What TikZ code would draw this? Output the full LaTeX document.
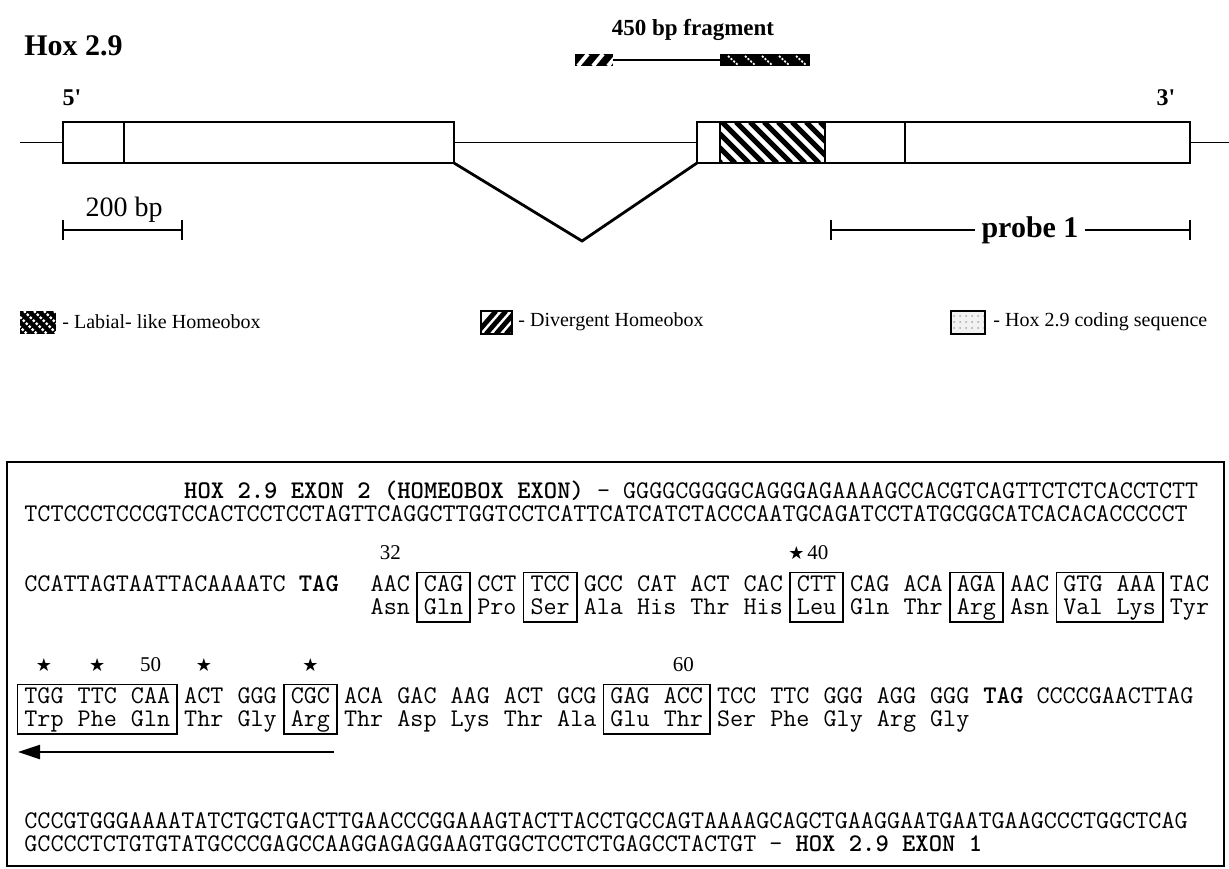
\documentclass[tikz,border=0pt]{standalone}
\usepackage{fontspec}
\setmainfont{Liberation Serif}
\newfontfamily\symfont{DejaVu Sans}
\usetikzlibrary{arrows.meta,positioning,patterns}

\tikzset{
  exon/.style={draw, line width=1pt, fill=white},
  dna/.style={line width=0.8pt},
  splice/.style={line width=1.4pt},
  scalebar/.style={line width=1pt},
  maplbl/.style={font=\fontsize{15}{17}\selectfont\bfseries, inner sep=0},
  endlbl/.style={font=\fontsize{12}{14}\selectfont\bfseries, inner sep=0},
  legtxt/.style={font=\fontsize{10}{12}\selectfont, inner sep=0, anchor=west},
  legicon/.style={draw, line width=0.7pt},
  seq/.style={font=\ttfamily\fontsize{12.69}{15}\selectfont, inner sep=0,
    text height=6.5pt, text depth=1.8pt, anchor=base west},
  numlbl/.style={font=\fontsize{10.5}{12}\selectfont, inner sep=0},
  starlbl/.style={font=\symfont\fontsize{9}{10}\selectfont, inner sep=0},
  codonbox/.style={draw, line width=0.8pt},
  seqarrow/.style={line width=1.2pt, -{Triangle[length=11pt, width=7pt]}},
}

\begin{document}
\begin{tikzpicture}[x=0.5pt, y=-0.5pt]
  \useasboundingbox (0,0) rectangle (1229,868);

  % Gene map titles
  \node[maplbl, anchor=west] (hoxtitle) at (24,46) {Hox 2.9};
  \node[font=\fontsize{11.5}{13}\selectfont\bfseries, inner sep=0] (fraglbl) at (693,30) {450 bp fragment};
  \node[endlbl] (five) at (72,98) {5\textquotesingle};
  \node[endlbl] (three) at (1166,98) {3\textquotesingle};

  % 450 bp fragment
  \fill (575,54) rectangle (613,66);
  \begin{scope}
    \clip (575,54) rectangle (613,66);
    \foreach \s in {0,1,2}
      \draw[white, line width=2pt] (578+\s*15,66) -- ++(10,-12);
  \end{scope}
  \draw[dna] (613,60) -- (720,60);
  \fill (720,54) rectangle (810,66);
  \foreach \k in {0,...,4}
    \draw[white, line width=0.9pt, dash pattern=on 1pt off 0.8pt] (728+\k*17,56) -- ++(10,9);

  % Genomic line, exons and splice
  \draw[dna] (20,142.5) -- (63,142.5);
  \draw[dna] (454,142.5) -- (697,142.5);
  \draw[dna] (1190,142.5) -- (1229,142.5);
  \draw[exon] (63,122) rectangle (454,163);
  \draw[line width=1pt] (124,122) -- (124,163);
  \draw[exon] (697,122) rectangle (1190,163);
  \begin{scope}
    \clip (720,122) rectangle (825,163);
    \foreach \s in {0,...,10}
      \draw[line width=2.5pt] (680+\s*14,122) -- ++(41,41);
  \end{scope}
  \draw[line width=0.7pt] (720,122) -- (720,163) (825,122) -- (825,163);
  \draw[line width=1pt] (905,122) -- (905,163);
  \draw[exon, fill=none] (697,122) rectangle (1190,163);
  \draw[splice] (454,163) -- (582,241) -- (697,163);

  % Scale bar and probe
  \coordinate (sbL) at (63,230);
  \coordinate (sbR) at (182,230);
  \draw[scalebar] (sbL) -- (sbR);
  \draw[scalebar] ([yshift=5pt]sbL) -- ([yshift=-5pt]sbL);
  \draw[scalebar] ([yshift=5pt]sbR) -- ([yshift=-5pt]sbR);
  \node[font=\fontsize{14}{16}\selectfont, inner sep=0] (sblbl) at (124,210) {200 bp};

  \coordinate (prL) at (831,230);
  \coordinate (prR) at (1190,230);
  \node[font=\fontsize{15}{17}\selectfont\bfseries, inner xsep=3pt, inner ysep=0] (prlbl) at (1030,230) {probe 1};
  \draw[scalebar] (prL) -- (prlbl.west);
  \draw[scalebar] (prlbl.east) -- (prR);
  \draw[scalebar] ([yshift=5pt]prL) -- ([yshift=-5pt]prL);
  \draw[scalebar] ([yshift=5pt]prR) -- ([yshift=-5pt]prR);

  % Legend
  \fill (20,311) rectangle (56,334);
  \begin{scope}
    \clip (20,311) rectangle (56,334);
    \foreach \s in {0,...,6}
      \draw[white, line width=1.1pt, dash pattern=on 1.2pt off 0.9pt] (4+\s*10,311) -- ++(23,23);
  \end{scope}
  \node[legtxt] (leglab) at (62,322) {- Labial- like Homeobox};

  \begin{scope}
    \clip (481,311) rectangle (512,334);
    \foreach \s in {0,1,2,3}
      \draw[line width=2.4pt] (476+\s*10,334) -- ++(20,-23);
  \end{scope}
  \draw[legicon] (481,311) rectangle (512,334);
  \node[legtxt] (legdiv) at (518,322) {- Divergent Homeobox};

  \fill[gray!10] (951,311) rectangle (985,334);
  \fill[pattern=dots, pattern color=gray!70] (951,311) rectangle (985,334);
  \draw[legicon] (951,311) rectangle (985,334);
  \node[legtxt] (legcod) at (993,322) {- Hox 2.9 coding sequence};

  % Sequence panel
  \draw[line width=1pt] (7,462) rectangle (1224,866);
  \node[seq] (hdr) at (183.8,498) {\textbf{HOX 2.9 EXON 2 (HOMEOBOX EXON)} - GGGGCGGGGCAGGGAGAAAAGCCACGTCAGTTCTCTCACCTCTT};
  \node[seq] (seq2) at (24,521) {TCTCCCTCCCGTCCACTCCTCCTAGTTCAGGCTTGGTCCTCATTCATCATCTACCCAATGCAGATCCTATGCGGCATCACACACCCCCT};

  \node[seq] (r3pre) at (24,591) {CCATTAGTAATTACAAAATC \textbf{TAG}};
  \foreach \cod [count=\i] in {AAC,CAG,CCT,TCC,GCC,CAT,ACT,CAC,CTT,CAG,ACA,AGA,AAC,GTG,AAA,TAC}
    \node[seq] (r3c\i) at ({370.3+(\i-1)*53.28},591) {\cod};
  \foreach \aa [count=\i] in {Asn,Gln,Pro,Ser,Ala,His,Thr,His,Leu,Gln,Thr,Arg,Asn,Val,Lys,Tyr}
    \node[seq] (r3a\i) at ({370.3+(\i-1)*53.28},614) {\aa};
  \foreach \a/\b in {2/2,4/4,9/9,12/12,14/15}
    \draw[codonbox] ([xshift=-3.33pt,yshift=2.5pt]r3c\a.north west) rectangle ([xshift=3.33pt,yshift=-2pt]r3a\b.south east);

  \node[numlbl, above=9pt of r3c1] (n32) {32};
  \node[starlbl, above=9pt of r3c9.north west] (st40) {★};
  \node[numlbl, anchor=south west] (n40) at ([xshift=1pt]st40.south east) {40};

  \foreach \cod [count=\i] in {TGG,TTC,CAA,ACT,GGG,CGC,ACA,GAC,AAG,ACT,GCG,GAG,ACC,TCC,TTC,GGG,AGG,GGG}
    \node[seq] (r4c\i) at ({24+(\i-1)*53.28},703) {\cod};
  \node[seq] (r4end) at ({24+18*53.28},703) {\textbf{TAG} CCCCGAACTTAG};
  \foreach \aa [count=\i] in {Trp,Phe,Gln,Thr,Gly,Arg,Thr,Asp,Lys,Thr,Ala,Glu,Thr,Ser,Phe,Gly,Arg,Gly}
    \node[seq] (r4a\i) at ({24+(\i-1)*53.28},726) {\aa};
  \foreach \a/\b in {1/3,6/6,12/13}
    \draw[codonbox] ([xshift=-3.33pt,yshift=2.5pt]r4c\a.north west) rectangle ([xshift=3.33pt,yshift=-2pt]r4a\b.south east);

  \foreach \i in {1,2,4,6}
    \node[starlbl, above=9pt of r4c\i] (st\i) {★};
  \node[numlbl, above=9pt of r4c3] (n50) {50};
  \node[numlbl, above=9pt of r4c13] (n60) {60};

  \coordinate (arrtail) at (334,752);
  \coordinate (arrhead) at (18,752);
  \draw[seqarrow] (arrtail) -- (arrhead);

  \node[seq] (seq5) at (24,828) {CCCGTGGGAAAATATCTGCTGACTTGAACCCGGAAAGTACTTACCTGCCAGTAAAAGCAGCTGAAGGAATGAATGAAGCCCTGGCTCAG};
  \node[seq] (seq6) at (24,851) {GCCCCTCTGTGTATGCCCGAGCCAAGGAGAGGAAGTGGCTCCTCTGAGCCTACTGT - \textbf{HOX 2.9 EXON 1}};
\end{tikzpicture}
\end{document}
